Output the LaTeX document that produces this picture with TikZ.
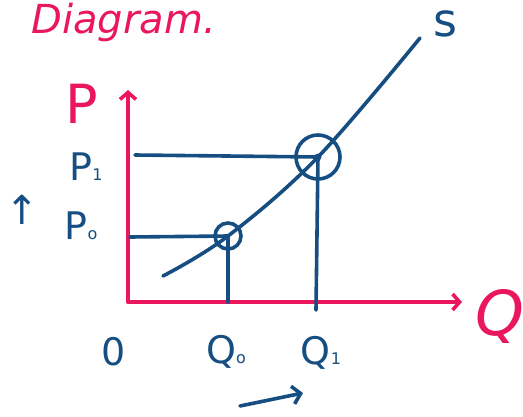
\documentclass[tikz,border=0pt]{standalone}
\usepackage{fontspec}
\setmainfont{DejaVu Sans}
\usetikzlibrary{arrows.meta}
\definecolor{pinkc}{RGB}{234,22,94}
\definecolor{bluec}{RGB}{22,78,130}
\newcommand{\sbs}[1]{{\fontsize{16}{16}\selectfont #1}}
\tikzset{
  axis/.style={draw=pinkc,line width=3.6pt,line cap=round,-{Straight Barb[length=7pt,width=16pt,line width=3.6pt]}},
  guide/.style={draw=bluec,line width=3.6pt,line cap=round},
  lbl/.style={text=bluec,font=\fontsize{38}{38}\selectfont,inner sep=0pt},
  plbl/.style={text=pinkc,font=\fontsize{54}{54}\selectfont,inner sep=0pt},
}
\begin{document}
\begin{tikzpicture}[x=1pt,y=-1pt]
\useasboundingbox (0,0) rectangle (523,416);
% title
\node[text=pinkc,font=\itshape\fontsize{40}{40}\selectfont,anchor=north east,inner sep=0pt] (title) at (216,3) {Diagram.};
% axes
\coordinate (O) at (128,302);
\coordinate (ytop) at (128,90);
\coordinate (xend) at (462,302);
\draw[axis] (O) -- (ytop);
\draw[axis] (O) -- (xend);
\node[plbl] (Plab) at (82,104) {P};
\node[plbl,font=\itshape\fontsize{62}{62}\selectfont] (Qlab) at (500,316) {Q};
% equilibrium points
\coordinate (e0) at (228,236);
\coordinate (e1) at (318,157);
\coordinate (p0) at (130,237);
\coordinate (p1) at (135,155);
\coordinate (q0) at (228,302);
\coordinate (q1) at (316,310);
\draw[guide] (p1) -- (e1);
\draw[guide] (p0) -- (e0);
\draw[guide] (e0) -- (q0);
\draw[guide] (e1) -- (q1);
% supply curve
\draw[guide] plot[smooth,tension=0.6] coordinates {(163,276) (228,236) (318,157) (420,38)};
\node[guide,circle,minimum size=26pt,inner sep=0pt] (c0) at (e0) {};
\node[guide,circle,minimum size=44pt,inner sep=0pt] (c1) at (e1) {};
\fill[bluec] (e1) circle (3.5pt);
% labels
\node[lbl,font=\fontsize{46}{46}\selectfont] (S) at (445,24) {s};
\node[lbl] (P1) at (86,167) {P\sbs{1}};
\node[lbl] (P0) at (81,226) {P\sbs{o}};
\node[lbl,font=\fontsize{40}{40}\selectfont] (up) at (22,210) {↑};
\node[lbl] (zero) at (114,352) {0};
\node[lbl] (Q0) at (226,352) {Q\sbs{o}};
\node[lbl] (Q1) at (321,353) {Q\sbs{1}};
\coordinate (a0) at (240,406);
\coordinate (a1) at (303,393);
\draw[guide,-{Straight Barb[length=8pt,width=18pt,line width=3.6pt]}] (a0) -- (a1);
\end{tikzpicture}
\end{document}
